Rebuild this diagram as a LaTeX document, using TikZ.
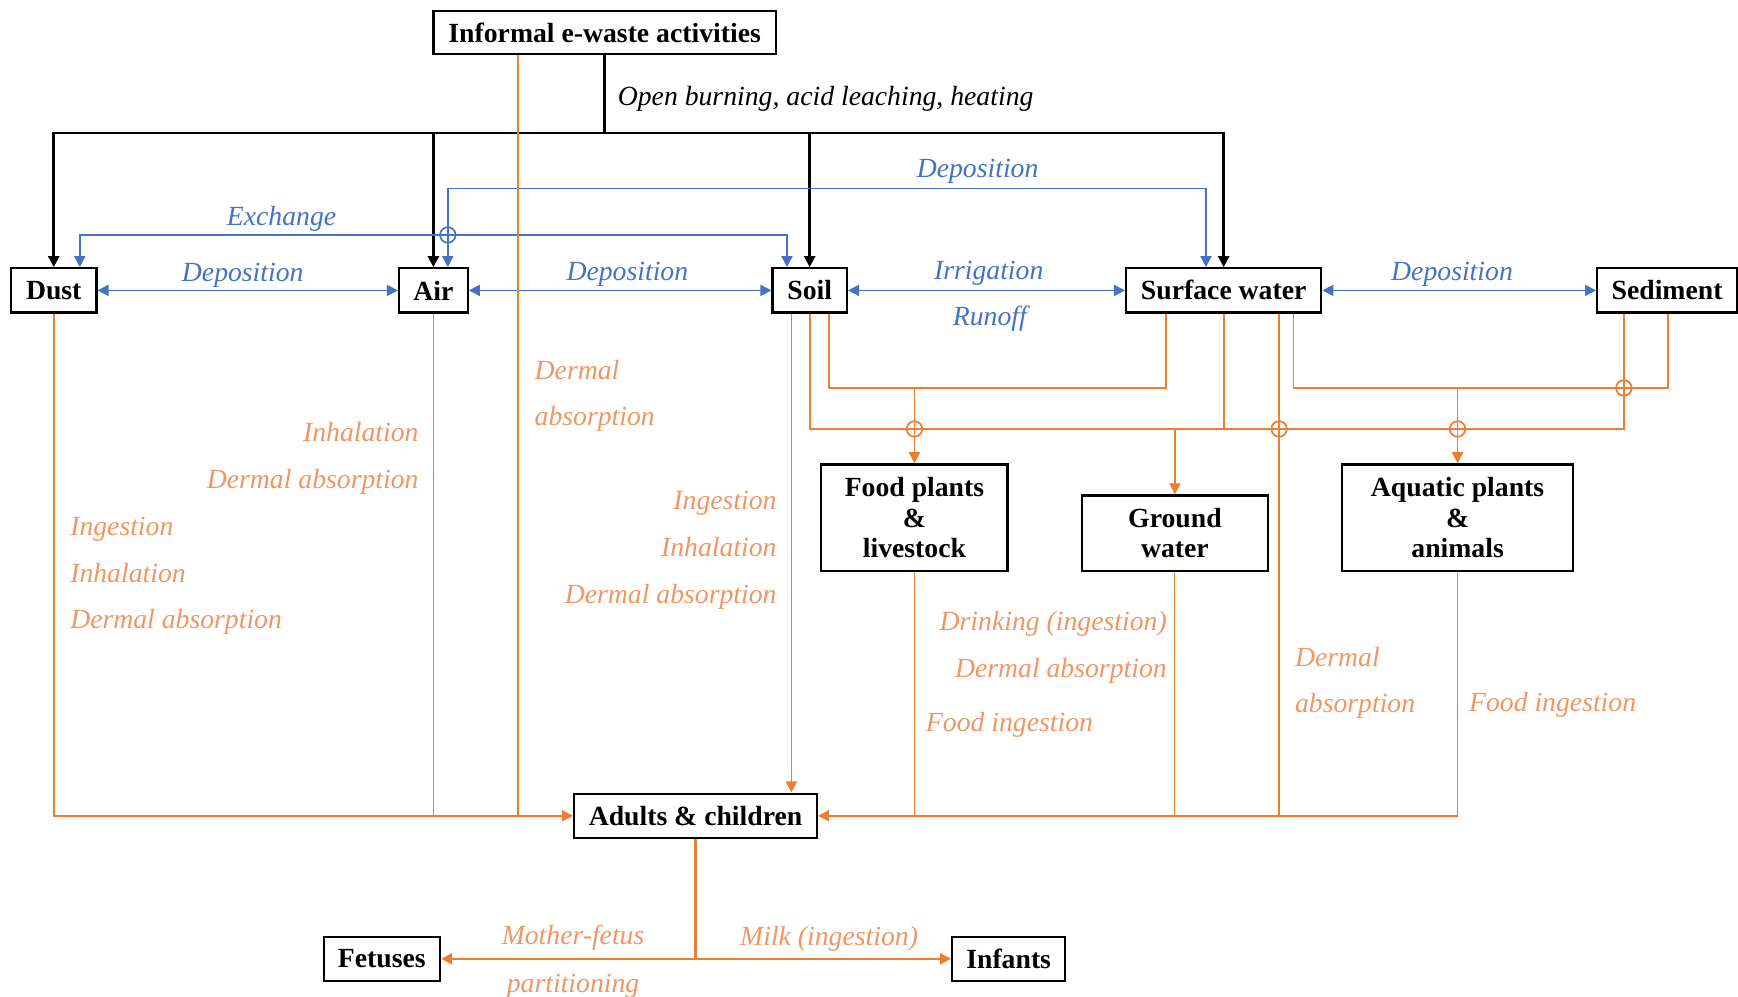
\documentclass[tikz,border=0pt]{standalone}
\usepackage{fontspec}
\setmainfont{Liberation Serif}
\usetikzlibrary{arrows.meta,calc}
\definecolor{myblue}{RGB}{68,114,196}
\definecolor{myorange}{RGB}{237,125,49}
\definecolor{mytext}{RGB}{240,150,100}
\begin{document}
\begin{tikzpicture}[x=0.5pt,y=-0.5pt,
  box/.style={draw, line width=1pt, inner sep=0pt, align=center, font=\bfseries\fontsize{12.5}{13.75}\selectfont},
  blkline/.style={line width=1.3pt, black},
  bluline/.style={line width=0.75pt, myblue},
  orgline/.style={line width=0.8pt, myorange},
  endarrow/.style={-{Triangle[length=5pt,width=5pt]}},
  bothtips/.style={{Triangle[length=5pt,width=5pt]}-{Triangle[length=5pt,width=5pt]}},
  lb/.style={inner sep=0pt, yshift=-1.25pt, text=myblue, font=\itshape\fontsize{12.5}{14}\selectfont},
  lo/.style={inner sep=0pt, yshift=-1.25pt, text=mytext, font=\itshape\fontsize{12.5}{14}\selectfont},
  lk/.style={inner sep=0pt, yshift=-1.25pt, text=black, font=\itshape\fontsize{12.5}{14}\selectfont}
]
\useasboundingbox (0,0) rectangle (1568,898.6);

% ---------- nodes ----------
\node[box, minimum width=154.5pt, minimum height=19.5pt] (inf) at (545.5,29.5) {Informal e-waste activities};
\node[box, minimum width=38.5pt, minimum height=20pt] (dust) at (48.5,262) {Dust};
\node[box, minimum width=31pt, minimum height=20pt] (air) at (391,262) {Air};
\node[box, minimum width=33.5pt, minimum height=20pt] (soil) at (730.5,262) {Soil};
\node[box, minimum width=88pt, minimum height=20pt] (swater) at (1104,262) {Surface water};
\node[box, minimum width=63pt, minimum height=20pt] (sed) at (1504,262) {Sediment};
\node[box, minimum width=84pt, minimum height=48pt] (food) at (825,467) {Food plants\\\&\\livestock};
\node[box, minimum width=84pt, minimum height=34pt] (ground) at (1060,481) {Ground\\water};
\node[box, minimum width=104pt, minimum height=48pt] (aqua) at (1315,467) {Aquatic plants\\\&\\animals};
\node[box, minimum width=109.5pt, minimum height=20pt] (adults) at (627.5,736) {Adults \& children};
\node[box, minimum width=52.5pt, minimum height=20pt] (fetus) at (344.5,865) {Fetuses};
\node[box, minimum width=51pt, minimum height=20pt] (infant) at (910,865) {Infants};

% ---------- black emission lines ----------
\coordinate (bus) at (545.5,120);
\draw[blkline] (inf.south) -- (bus);
\draw[blkline,endarrow] (bus) -| (dust.north);
\draw[blkline,endarrow] (bus) -| (swater.north);
\draw[blkline,endarrow] (air.north |- bus) -- (air.north);
\draw[blkline,endarrow] (soil.north |- bus) -- (soil.north);
\node[lk, anchor=west] (lopen) at (557,87) {\strut Open burning, acid leaching, heating};

% ---------- blue exchange lines ----------
\draw[bluline,bothtips] (dust.east) -- (air.west);
\draw[bluline,bothtips] (air.east) -- (soil.west);
\draw[bluline,bothtips] (soil.east) -- (swater.west);
\draw[bluline,bothtips] (swater.east) -- (sed.west);
\coordinate (exL) at (72,212);
\coordinate (exR) at (710,212);
\draw[bluline,bothtips] (exL |- dust.north) -- (exL) -- (exR) -- (exR |- soil.north);
\coordinate (dpL) at (404,170);
\coordinate (dpR) at (1088,170);
\draw[bluline,bothtips] (dpL |- air.north) -- (dpL) -- (dpR) -- (dpR |- swater.north);
\draw[bluline] (404,212) circle[radius=3.5pt];

\node[lb] (lexch) at (254,195) {\strut Exchange};
\node[lb] (ldep0) at (882,152) {\strut Deposition};
\node[lb] (ldep1) at (219,246) {\strut Deposition};
\node[lb] (ldep2) at (566,245) {\strut Deposition};
\node[lb] (lirr) at (892,244) {\strut Irrigation};
\node[lb] (lrun) at (893,286) {\strut Runoff};
\node[lb] (ldep3) at (1310,245) {\strut Deposition};

% ---------- orange exposure lines ----------
\coordinate (cInf) at (467,0);
\coordinate (cS1) at (714,0);
\coordinate (cS2) at (731,0);
\coordinate (cS3) at (748,0);
\coordinate (cW1) at (1052,0);
\coordinate (cW2) at (1104,0);
\coordinate (cW3) at (1154,0);
\coordinate (cW4) at (1167,0);
\coordinate (cD1) at (1465,0);
\coordinate (cD2) at (1505,0);

% left side into adults
\draw[orgline,endarrow] (dust.south) |- (adults.west);
\draw[orgline] (air.south) -- (air.south |- adults.west);
\draw[orgline] (cInf |- inf.south) -- (cInf |- adults.west);
% soil straight down
\draw[orgline,endarrow] (cS1 |- soil.south) -- (cS1 |- adults.north);
% network to food plants
\draw[orgline] (cS3 |- soil.south) -- (748,350) -- (1052,350) -- (cW1 |- swater.south);
\draw[orgline,endarrow] (825,350) -- (food.north);
% network to ground water
\draw[orgline] (cS2 |- soil.south) -- (731,387) -- (1465,387) -- (cD1 |- sed.south);
\draw[orgline] (cW2 |- swater.south) -- (1104,387);
\draw[orgline,endarrow] (1060,387) -- (ground.north);
% network to aquatic plants
\draw[orgline] (cW4 |- swater.south) -- (1167,350) -- (1505,350) -- (cD2 |- sed.south);
\draw[orgline,endarrow] (1315,350) -- (aqua.north);
% crossings
\draw[orgline] (825,387) circle[radius=3.5pt];
\draw[orgline] (1154,387) circle[radius=3.5pt];
\draw[orgline] (1315,387) circle[radius=3.5pt];
\draw[orgline] (1465,350) circle[radius=3.5pt];
% right side into adults
\draw[orgline,endarrow] (aqua.south) |- (adults.east);
\draw[orgline] (food.south) -- (food.south |- adults.east);
\draw[orgline, line width=0.5pt] (ground.south) -- (ground.south |- adults.east);
\draw[orgline] (cW3 |- swater.south) -- (cW3 |- adults.east);
% bottom
\coordinate (split) at (627.5,865);
\draw[orgline, line width=1pt] (adults.south) -- (split);
\draw[orgline, line width=1pt, endarrow] (split) -- (fetus.east);
\draw[orgline, line width=1pt, endarrow] (split) -- (infant.west);

% orange labels
\node[lo, anchor=west] (o1) at (482,334) {\strut Dermal};
\node[lo, anchor=west] (o2) at (482,376) {\strut absorption};
\node[lo, anchor=east] (o3) at (378,390) {\strut Inhalation};
\node[lo, anchor=east] (o4) at (378,433) {\strut Dermal absorption};
\node[lo, anchor=west] (o5) at (63,475) {\strut Ingestion};
\node[lo, anchor=west] (o6) at (63,517) {\strut Inhalation};
\node[lo, anchor=west] (o7) at (63,559) {\strut Dermal absorption};
\node[lo, anchor=east] (o8) at (701,452) {\strut Ingestion};
\node[lo, anchor=east] (o9) at (701,494) {\strut Inhalation};
\node[lo, anchor=east] (o10) at (701,536) {\strut Dermal absorption};
\node[lo, anchor=east] (o11) at (1053,561) {\strut Drinking (ingestion)};
\node[lo, anchor=east] (o12) at (1053,603) {\strut Dermal absorption};
\node[lo, anchor=west] (o13) at (835,652) {\strut Food ingestion};
\node[lo, anchor=west] (o14) at (1168,593) {\strut Dermal};
\node[lo, anchor=west] (o15) at (1168,635) {\strut absorption};
\node[lo, anchor=west] (o16) at (1325,634) {\strut Food ingestion};
\node[lo] (o17) at (517,844) {\strut Mother-fetus};
\node[lo] (o18) at (517,887) {\strut partitioning};
\node[lo] (o19) at (748,845) {\strut Milk (ingestion)};
\end{tikzpicture}
\end{document}
